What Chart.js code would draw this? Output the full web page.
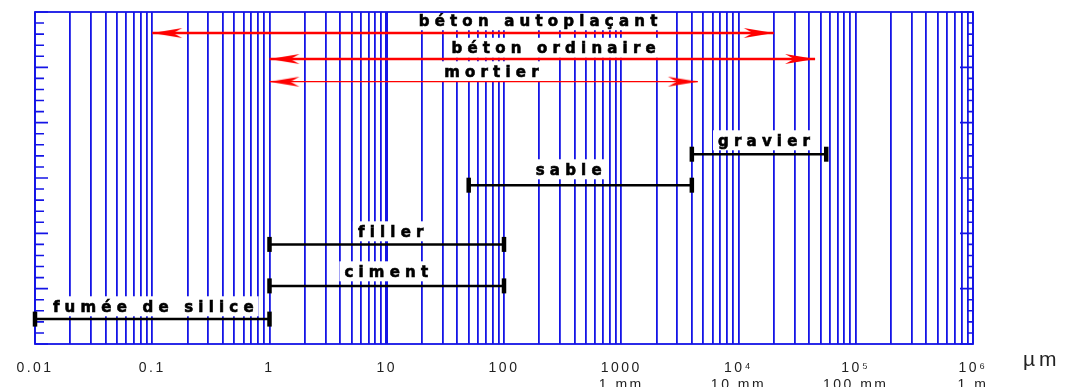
<!DOCTYPE html>
<html>
<head>
<meta charset="utf-8">
<script src="https://cdn.jsdelivr.net/npm/chart.js@4/dist/chart.umd.min.js"></script>
<style>
  html, body { margin: 0; padding: 0; background: #fff; }
  canvas { display: block; }
</style>
</head>
<body>
<canvas id="c" width="1073" height="387"></canvas>
<script>
// Grain-size ranges of concrete constituents, in µm on a log axis
const materials = ['fumée de silice', 'ciment', 'filler', 'sable', 'gravier'];
const materialMin = [0.01, 1, 1, 50, 4000];
const materialMax = [1, 100, 100, 4000, 56000];
const materialRow = [0.45, 1.05, 1.8, 2.87, 3.43];

// Grain-size spans covered by each mix
const mixes = ['béton autoplaçant', 'béton ordinaire', 'mortier'];
const mixMin = [0.1, 1, 1];
const mixMax = [20000, 45000, 4500];
const mixRow = [5.62, 5.15, 4.74];

// Axis labelling
const decades = [0.01, 0.1, 1, 10, 100, 1000, 1e4, 1e5, 1e6];
const decadeLabels = ['0.01', '0.1', '1', '10', '100', '1000', '10\u2074', '10\u2075', '10\u2076'];
const sizeLabels = ['', '', '', '', '', '1 mm', '10 mm', '100 mm', '1 m'];
const unitLabel = '\u00b5m';

// Where each name is written (µm, row)
const materialLabelX = [0.102, 9.9, 10.8, 356, 16500];
const materialLabelRow = [0.687, 1.319, 2.042, 3.163, 3.687];
const mixLabelX = [195, 265, 78];
const mixLabelRow = [5.856, 5.359, 4.934];

const GRID_BLUE = '#1414e6';

// one vertical grid line at every 1..9 × 10^n
const gridValues = [];
decades.forEach((d, i) => {
  if (i === decades.length - 1) { gridValues.push(d); return; }
  for (let m = 1; m <= 9; m++) gridValues.push(+(d * m).toPrecision(6));
});

// notched arrowhead; the tip sits at the centre of the sprite
function arrowHead(len, half) {
  const c = document.createElement('canvas');
  c.width = 2 * len + 4;
  c.height = 2 * half + 2;
  const g = c.getContext('2d');
  const cx = c.width / 2, cy = c.height / 2;
  g.fillStyle = '#ff0000';
  g.beginPath();
  g.moveTo(cx, cy);
  g.lineTo(cx + len, cy - half);
  g.lineTo(cx + len * 0.7, cy);
  g.lineTo(cx + len, cy + half);
  g.closePath();
  g.fill();
  return c;
}
const arrow = arrowHead(30, 5);

const datasets = [];
materials.forEach((name, i) => {
  datasets.push({
    label: name,
    data: [{ x: materialMin[i], y: materialRow[i] }, { x: materialMax[i], y: materialRow[i] }],
    showLine: true,
    borderColor: '#000',
    borderWidth: 2.5,
    pointStyle: 'line',
    pointRotation: 90,
    pointRadius: 7.5,
    pointBorderWidth: 4.5,
    pointBorderColor: '#000',
    pointBackgroundColor: '#000',
    clip: false
  });
});
mixes.forEach((name, i) => {
  datasets.push({
    label: name,
    data: [{ x: mixMin[i], y: mixRow[i] }, { x: mixMax[i], y: mixRow[i] }],
    showLine: true,
    borderColor: '#ff0000',
    borderWidth: i === 2 ? 1.3 : 2.6,
    pointStyle: arrow,
    pointRotation: [0, 180],
    pointRadius: 6,
    clip: false
  });
});

function decadeIndex(v) {
  return decades.findIndex(d => Math.abs(Math.log10(d) - Math.log10(v)) < 1e-6);
}

function drawName(ctx, text, cx, cy) {
  const ls = 5.2;
  ctx.font = 'bold 15px "DejaVu Sans"';
  ctx.letterSpacing = ls + 'px';
  const w = ctx.measureText(text).width - ls;
  const base = cy + 5.8;
  ctx.fillStyle = '#fff';
  ctx.fillRect(cx - w / 2 - 5, base - 15.5, w + 10, 20);
  ctx.fillStyle = '#000';
  ctx.strokeStyle = '#000';
  ctx.lineWidth = 0.6;
  ctx.textAlign = 'left';
  ctx.textBaseline = 'alphabetic';
  ctx.fillText(text, cx - w / 2, base);
  ctx.strokeText(text, cx - w / 2, base);
}

const decor = {
  id: 'decor',
  beforeDraw(chart) {
    chart.ctx.letterSpacing = '2.5px';
  },
  beforeDatasetsDraw(chart) {
    const ctx = chart.ctx;
    const xs = chart.scales.x, ys = chart.scales.y;
    const a = chart.chartArea;
    ctx.save();
    materials.forEach((t, i) => drawName(ctx, t, xs.getPixelForValue(materialLabelX[i]), ys.getPixelForValue(materialLabelRow[i])));
    mixes.forEach((t, i) => drawName(ctx, t, xs.getPixelForValue(mixLabelX[i]), ys.getPixelForValue(mixLabelRow[i])));

    // frame
    ctx.strokeStyle = GRID_BLUE;
    ctx.lineWidth = 1.8;
    ctx.strokeRect(a.left, a.top, a.right - a.left, a.bottom - a.top);

    // inward ticks on both sides
    ctx.lineWidth = 1.6;
    for (let k = 0; k <= 30; k++) {
      const v = k / 5;
      const py = ys.getPixelForValue(v);
      const major = k % 5 === 0;
      ctx.beginPath();
      ctx.moveTo(a.left, py);
      ctx.lineTo(a.left + (major ? 13 : 9), py);
      ctx.moveTo(a.right, py);
      ctx.lineTo(a.right - (major ? 13 : 5), py);
      ctx.stroke();
    }
    ctx.restore();
  },
  afterDraw(chart) {
    const ctx = chart.ctx;
    ctx.save();
    ctx.font = '21px "Liberation Sans"';
    ctx.letterSpacing = '4px';
    ctx.fillStyle = '#222';
    ctx.textAlign = 'left';
    ctx.textBaseline = 'alphabetic';
    ctx.fillText(unitLabel, 1023, 366);
    ctx.restore();
  }
};

new Chart(document.getElementById('c'), {
  type: 'scatter',
  data: { datasets },
  options: {
    responsive: false,
    devicePixelRatio: 1,
    animation: false,
    events: [],
    layout: { padding: { left: 35, right: 100, top: 12, bottom: 0 } },
    plugins: { legend: { display: false }, tooltip: { enabled: false } },
    scales: {
      x: {
        type: 'logarithmic',
        min: 0.01,
        max: 1e6,
        afterBuildTicks(scale) {
          scale.ticks = gridValues.map(v => ({ value: v, major: decadeIndex(v) >= 0 }));
        },
        afterFit(scale) { scale.height = 43; },
        border: { display: false },
        grid: {
          color: GRID_BLUE,
          lineWidth: ctx => (ctx.tick && Math.abs(ctx.tick.value - 10) < 1e-9) ? 3 : 1.8,
          drawTicks: false,
          tickLength: 0
        },
        ticks: {
          autoSkip: false,
          maxRotation: 0,
          minRotation: 0,
          padding: 16,
          color: '#222',
          font: { family: 'Liberation Sans', size: 14, lineHeight: 1.2 },
          callback(value) {
            const i = decadeIndex(value);
            return i >= 0 ? [decadeLabels[i], sizeLabels[i]] : '';
          }
        }
      },
      y: {
        type: 'linear',
        min: 0,
        max: 6,
        display: false
      }
    }
  },
  plugins: [decor]
});
</script>
</body>
</html>
